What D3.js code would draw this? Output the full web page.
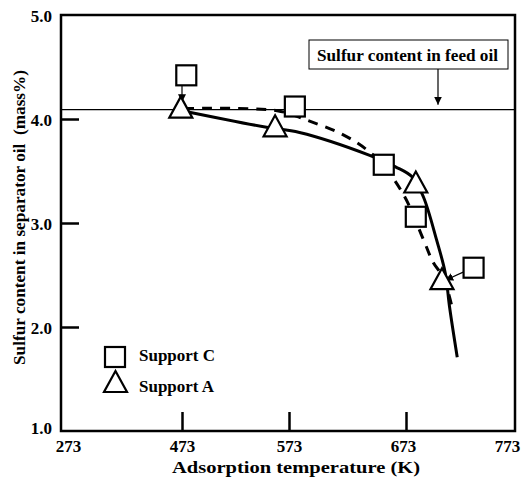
<!DOCTYPE html>
<html>
<head>
<meta charset="utf-8">
<script src="https://cdn.jsdelivr.net/npm/d3@7"></script>
<style>
  body { margin: 0; background: #fff; }
  svg { display: block; }
  text { font-family: "Liberation Serif", "Times New Roman", serif; font-weight: bold; }
</style>
</head>
<body>
<svg width="523" height="479"></svg>
<script>
// x axis labels (the axis is not evenly scaled in the original)
const xTicks = [273, 473, 573, 673, 773]
const yTicks = [1, 2, 3, 4, 5]

// Support C (squares), as placed in the figure
const suppCTemp = [477, 578, 654, 682, 735]
const suppCSulfur = [4.42, 4.12, 3.56, 3.06, 2.57]
// Support A (triangles)
const suppATemp = [471, 560, 682, 706]
const suppASulfur = [4.10, 3.92, 3.38, 2.45]

// trend curves
const curveATemp = [473, 552, 582, 642, 664, 679, 689, 701, 709, 713, 720]
const curveASulfur = [4.08, 3.92, 3.87, 3.65, 3.54, 3.44, 3.25, 2.84, 2.52, 2.19, 1.71]
const curveCTemp = [475, 562, 588, 619, 640, 654, 672, 689, 698, 707, 716]
const curveCSulfur = [4.10, 4.08, 3.99, 3.85, 3.70, 3.55, 3.25, 2.84, 2.62, 2.48, 2.16]

const feedSulfur = 4.09

// leader arrows: from square marker to the point it belongs to
const leaderFrom = [[473, 4.32], [726, 2.53]]
const leaderTo = [[473, 4.16], [709, 2.45]]

const svg = d3.select('svg')
const plotLeft = 61, plotRight = 515, plotTop = 15, plotBottom = 431

const x = d3.scaleLinear()
    .domain(xTicks)
    .range([plotLeft, 182, 289, 406, plotRight])
const y = d3.scaleLinear()
    .domain([1, 5])
    .range([plotBottom, plotTop])

svg.append('defs').append('marker')
    .attr('id', 'arr')
    .attr('viewBox', '0 0 10 10')
    .attr('refX', 10).attr('refY', 5)
    .attr('markerWidth', 8).attr('markerHeight', 8)
    .attr('markerUnits', 'userSpaceOnUse')
    .attr('orient', 'auto')
    .append('path')
    .attr('d', 'M0,0L10,5L0,10Z')
    .attr('fill', '#000')

// x axis
const xAxis = svg.append('g')
    .attr('transform', `translate(0,${plotBottom})`)
    .call(d3.axisBottom(x).tickValues(xTicks).tickFormat(d3.format('d'))
        .tickSizeInner(-19).tickSizeOuter(0).tickPadding(8))
xAxis.select('.domain').remove()
xAxis.selectAll('.tick line').attr('stroke-width', 2.5)
    .filter(d => d === 273 || d === 773).remove()
xAxis.selectAll('.tick text')
    .attr('font-size', 17).attr('fill', '#000')
    .attr('y', 21).attr('dy', 0)
    .attr('dx', d => d === 273 ? 7 : (d === 773 ? -8 : (d === 673 ? -3 : 0)))

// y axis
const yAxis = svg.append('g')
    .attr('transform', `translate(${plotLeft},0)`)
    .call(d3.axisLeft(y).tickValues(yTicks).tickFormat(d3.format('.1f'))
        .tickSizeInner(-18).tickSizeOuter(0).tickPadding(9))
yAxis.select('.domain').remove()
yAxis.selectAll('.tick line').attr('stroke-width', 2.5)
    .filter(d => d === 1 || d === 5).remove()
yAxis.selectAll('.tick text')
    .attr('font-size', 17).attr('fill', '#000')
    .attr('dy', d => d === 1 ? '0.15em' : '0.38em')

// frame
svg.append('rect')
    .attr('x', plotLeft).attr('y', plotTop)
    .attr('width', plotRight - plotLeft).attr('height', plotBottom - plotTop)
    .attr('fill', 'none').attr('stroke', '#000').attr('stroke-width', 2.5)

// feed oil line
svg.append('line')
    .attr('x1', plotLeft).attr('x2', plotRight)
    .attr('y1', y(feedSulfur)).attr('y2', y(feedSulfur))
    .attr('stroke', '#000').attr('stroke-width', 1.2)

// label box
svg.append('rect')
    .attr('x', 309).attr('y', 40).attr('width', 199).attr('height', 29)
    .attr('fill', '#fff').attr('stroke', '#000').attr('stroke-width', 1)
svg.append('text')
    .attr('x', 317).attr('y', 61)
    .attr('font-size', 17).attr('textLength', 181).attr('lengthAdjust', 'spacingAndGlyphs')
    .text('Sulfur content in feed oil')
svg.append('line')
    .attr('x1', 438).attr('x2', 438).attr('y1', 69).attr('y2', y(feedSulfur) - 5)
    .attr('stroke', '#000').attr('stroke-width', 1.2)
    .attr('marker-end', 'url(#arr)')

// curves
const line = d3.line().curve(d3.curveCatmullRom)
    .x(d => x(d[0])).y(d => y(d[1]))

svg.append('path')
    .datum(curveATemp.map((t, i) => [t, curveASulfur[i]]))
    .attr('d', line)
    .attr('fill', 'none').attr('stroke', '#000').attr('stroke-width', 3)

svg.append('path')
    .datum(curveCTemp.map((t, i) => [t, curveCSulfur[i]]))
    .attr('d', line)
    .attr('fill', 'none').attr('stroke', '#000').attr('stroke-width', 3)
    .attr('stroke-dasharray', '10,8')

// leader arrows
leaderFrom.forEach((f, i) => {
    svg.append('line')
        .attr('x1', x(f[0])).attr('y1', y(f[1]))
        .attr('x2', x(leaderTo[i][0])).attr('y2', y(leaderTo[i][1]))
        .attr('stroke', '#000').attr('stroke-width', 1.2)
        .attr('marker-end', 'url(#arr)')
})

// markers
const sq = 20
const triPath = 'M0,-12L11.5,9L-11.5,9Z'

svg.append('g').selectAll('rect')
    .data(suppCTemp.map((t, i) => [t, suppCSulfur[i]]))
    .join('rect')
    .attr('x', d => x(d[0]) - sq / 2).attr('y', d => y(d[1]) - sq / 2)
    .attr('width', sq).attr('height', sq)
    .attr('fill', '#fff').attr('stroke', '#000').attr('stroke-width', 2.2)

svg.append('g').selectAll('path')
    .data(suppATemp.map((t, i) => [t, suppASulfur[i]]))
    .join('path')
    .attr('transform', d => `translate(${x(d[0])},${y(d[1])})`)
    .attr('d', triPath)
    .attr('fill', '#fff').attr('stroke', '#000').attr('stroke-width', 2.2)

// legend
const legend = svg.append('g')
legend.append('rect')
    .attr('x', 105).attr('y', 347).attr('width', sq).attr('height', sq)
    .attr('fill', '#fff').attr('stroke', '#000').attr('stroke-width', 2.2)
legend.append('text').attr('x', 139).attr('y', 361)
    .attr('font-size', 17).attr('textLength', 76).attr('lengthAdjust', 'spacingAndGlyphs')
    .text('Support C')
legend.append('path')
    .attr('transform', 'translate(115.5,383)')
    .attr('d', triPath)
    .attr('fill', '#fff').attr('stroke', '#000').attr('stroke-width', 2.2)
legend.append('text').attr('x', 139).attr('y', 392)
    .attr('font-size', 17).attr('textLength', 75).attr('lengthAdjust', 'spacingAndGlyphs')
    .text('Support A')

// axis titles
svg.append('text')
    .attr('x', 172).attr('y', 473)
    .attr('font-size', 17).attr('textLength', 248).attr('lengthAdjust', 'spacingAndGlyphs')
    .text('Adsorption temperature (K)')
svg.append('text')
    .attr('transform', 'translate(25,365) rotate(-90)')
    .attr('font-size', 17).attr('xml:space', 'preserve')
    .attr('textLength', 295).attr('lengthAdjust', 'spacingAndGlyphs')
    .text('Sulfur content in separator oil  (mass%)')
</script>
</body>
</html>
